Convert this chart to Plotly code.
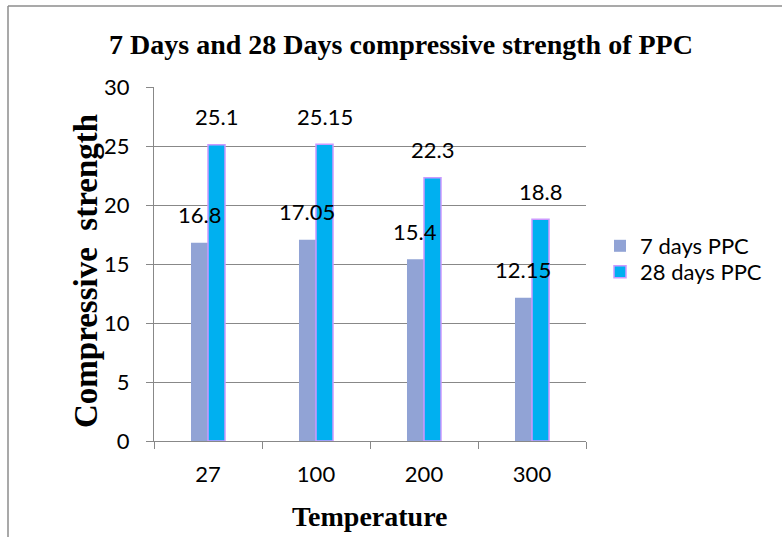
import plotly.graph_objects as go

categories = ["27", "100", "200", "300"]
days7 = [16.8, 17.05, 15.4, 12.15]
days28 = [25.1, 25.15, 22.3, 18.8]
series_names = ["7 days PPC", "28 days PPC"]
y_ticks = [0, 5, 10, 15, 20, 25, 30]

W, H = 782, 537
ML, MR, MT, MB = 154, 196, 87, 96
BARGAP = 0.685
SANS = "Lato, 'Open Sans', sans-serif"
SERIF = "'Liberation Serif', 'Times New Roman', serif"
TXT = 22

plot_w = W - ML - MR
plot_h = H - MT - MB


def px_x(px):
    return (px - ML) / plot_w


def px_y(py):
    return (H - MB - py) / plot_h


fig = go.Figure()
fig.add_trace(go.Bar(x=categories, y=days7, name=series_names[0], legend="legend",
                     marker=dict(color="#91A3D5", line=dict(width=0))))
fig.add_trace(go.Bar(x=categories, y=days28, name=series_names[1], legend="legend2",
                     marker=dict(color="#00B0F0", line=dict(color="#CC99FF", width=1.5))))

cat_px = plot_w / len(categories)
half_bar = cat_px * (1 - BARGAP) / 4
for vals, sgn in ((days7, -1), (days28, 1)):
    for i, v in enumerate(vals):
        fig.add_annotation(x=i, y=v, xref="x", yref="y", text=f"{v:g}", showarrow=False,
                           xshift=sgn * half_bar, yshift=28, yanchor="middle",
                           font=dict(family=SANS, size=TXT, color="black"))

# axis titles
fig.add_annotation(text="<b>Temperature</b>", xref="paper", yref="paper",
                   x=px_x(370), y=px_y(516), xanchor="center", yanchor="middle",
                   showarrow=False, font=dict(family=SERIF, size=28, color="black"))
fig.add_annotation(text="<b>Compressive&nbsp; strength</b>", xref="paper", yref="paper",
                   x=px_x(86), y=px_y(271), xanchor="center", yanchor="middle",
                   textangle=-90, showarrow=False,
                   font=dict(family=SERIF, size=33, color="black"))

# chart border (top and left visible)
top_y = px_y(6)
left_x = px_x(8)
fig.add_shape(type="line", xref="paper", yref="paper",
              x0=left_x, x1=px_x(W), y0=top_y, y1=top_y,
              line=dict(color="#8C8C8C", width=1.5))
fig.add_shape(type="line", xref="paper", yref="paper",
              x0=left_x, x1=left_x, y0=px_y(H), y1=top_y,
              line=dict(color="#8C8C8C", width=1.5))

leg_common = dict(xanchor="left", yanchor="middle", bgcolor="rgba(0,0,0,0)",
                  font=dict(family=SANS, size=22, color="black"))
fig.update_layout(
    width=W, height=H,
    margin=dict(l=ML, r=MR, t=MT, b=MB, autoexpand=False),
    paper_bgcolor="white", plot_bgcolor="white",
    barmode="group", bargap=BARGAP, bargroupgap=0,
    title=dict(text="<b>7 Days and 28 Days compressive strength of PPC</b>",
               x=401 / W, xanchor="center", y=1 - 44 / H, yanchor="middle",
               font=dict(family=SERIF, size=28, color="black")),
    font=dict(family=SANS, size=TXT, color="black"),
    legend=dict(x=px_x(600), y=px_y(246), **leg_common),
    legend2=dict(x=px_x(600), y=px_y(272), **leg_common),
    showlegend=True,
)
fig.update_xaxes(
    type="category", range=[-0.5, len(categories) - 0.5], automargin=False,
    showline=True, linecolor="#888888", linewidth=1,
    ticks="outside", tickson="boundaries", ticklen=7, tickcolor="#888888",
    showgrid=False, ticklabelstandoff=14,
    tickfont=dict(family=SANS, size=TXT),
)
fig.update_yaxes(
    range=[0, 30], tickvals=y_ticks, automargin=False,
    showline=True, linecolor="#888888", linewidth=1,
    ticks="outside", ticklen=7, tickcolor="#888888",
    showgrid=True, gridcolor="#888888", gridwidth=1, zeroline=False,
    ticklabelstandoff=12,
    tickfont=dict(family=SANS, size=TXT),
)

fig.write_html("out.html")
